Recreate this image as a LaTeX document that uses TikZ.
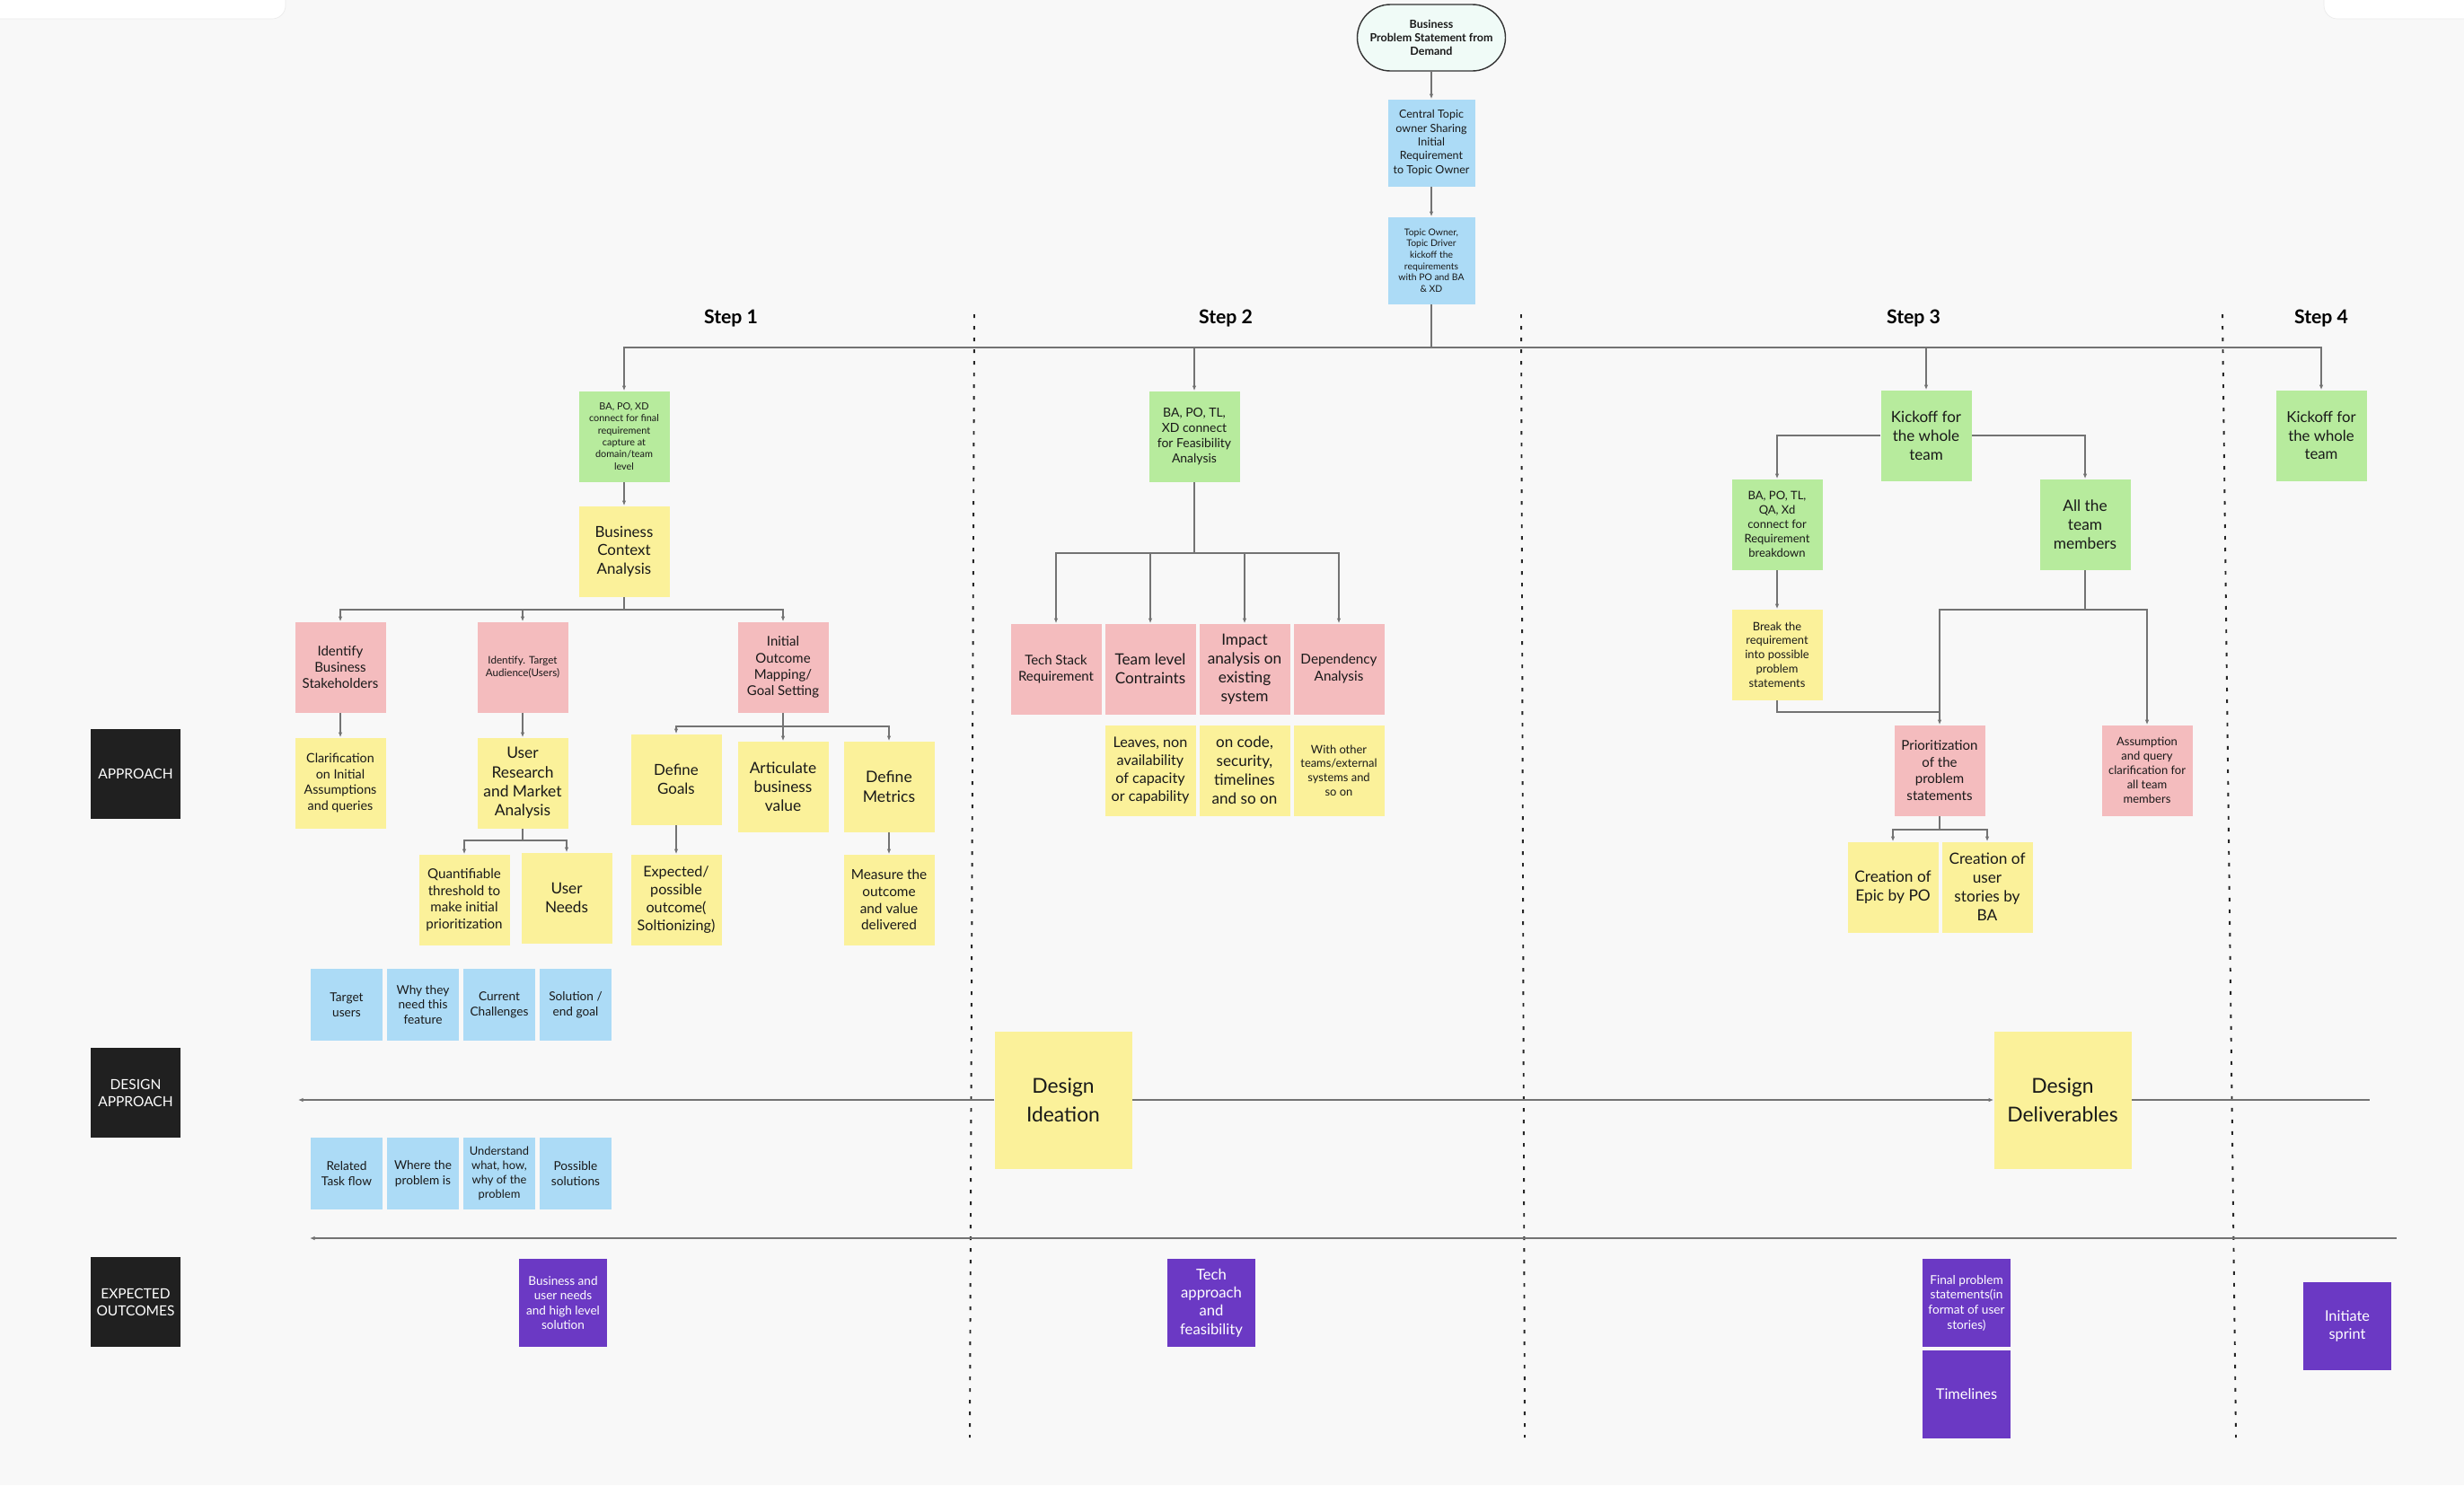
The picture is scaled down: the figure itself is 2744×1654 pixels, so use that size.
\documentclass[tikz,border=0pt]{standalone}
\usepackage{fontspec}
\setmainfont{Lato}
\usetikzlibrary{arrows.meta}

\definecolor{bgcol}{RGB}{248,248,248}
\definecolor{stickyyellow}{RGB}{251,241,154}
\definecolor{stickypink}{RGB}{244,188,190}
\definecolor{stickygreen}{RGB}{183,235,157}
\definecolor{stickyblue}{RGB}{172,219,246}
\definecolor{stickypurple}{RGB}{107,57,196}
\definecolor{stickyblack}{RGB}{32,32,32}
\definecolor{startfill}{RGB}{240,251,247}

% font size from the line spacing in px
\newcommand{\ls}[1]{\fontsize{\fpeval{0.465*#1}}{\fpeval{0.569*#1}}\selectfont}

\begin{document}
\begin{tikzpicture}[x=0.2mm, y=-0.2mm,
    note/.style={minimum width=20.2mm, minimum height=20.2mm, align=center, inner sep=0.5mm, text=black!90},
    yelnote/.style={note, fill=stickyyellow},
    pinknote/.style={note, fill=stickypink},
    greennote/.style={note, fill=stickygreen},
    bluenote/.style={note, fill=stickyblue, minimum width=19.4mm, minimum height=19.4mm},
    smallblue/.style={note, fill=stickyblue, minimum width=16mm, minimum height=16mm},
    purplenote/.style={note, fill=stickypurple, text=white, minimum width=19.6mm, minimum height=19.6mm},
    blacknote/.style={note, fill=stickyblack, text=white, minimum width=20mm, minimum height=20mm},
    bignote/.style={note, fill=stickyyellow, minimum width=30.6mm, minimum height=30.6mm, font=\fontsize{13}{18.4}\selectfont},
    fs/.style={font=\ls{#1}},
    steplabel/.style={font=\bfseries\ls{26}},
    conn/.style={draw=black!55, line width=0.7pt},
    arr/.style={conn, -{Latex[length=1.1mm,width=0.9mm]}},
    sep/.style={line width=1.1pt, dash pattern=on 0.8mm off 1.8mm, black!85}]

    \useasboundingbox (0,0) rectangle (2744,1654);
    \fill[bgcol] (0,0) rectangle (2744,1654);

    % board corners at the top
    \draw[black!8, fill=white, rounded corners=3mm] (-40,-40) rectangle (318,21);
    \draw[black!8, fill=white, rounded corners=3mm] (2588,-40) rectangle (2790,21);

    % step separators
    \draw[sep] (1085,350) -- (1080,1601);
    \draw[sep] (1694,350) -- (1698,1601);
    \draw[sep] (2475,350) -- (2490,1601);

    % row headings
    \node[blacknote, fs=19] (ap) at (151,862) {APPROACH};
    \node[blacknote, fs=19] (dap) at (151,1217) {DESIGN\\APPROACH};
    \node[blacknote, fs=19] (eo) at (151,1450) {EXPECTED\\OUTCOMES};

    % top of the flow
    \node[note, draw=black!80, line width=0.8pt, fill=startfill, rounded corners=7.4mm,
          minimum width=33mm, minimum height=14.8mm, font=\bfseries\ls{15.3}] (demand) at (1594,42)
          {Business\\Problem Statement from\\Demand};
    \node[bluenote, fs=15.3] (share) at (1594,159) {Central Topic\\owner Sharing\\Initial\\Requirement\\to Topic Owner};
    \node[bluenote, fs=12.7] (kick) at (1594,290) {Topic Owner,\\Topic Driver\\kickoff the\\requirements\\with PO and BA\\\& XD};

    \node[steplabel] (s1) at (814,355) {Step 1};
    \node[steplabel] (s2) at (1365,355) {Step 2};
    \node[steplabel] (s3) at (2131,355) {Step 3};
    \node[steplabel] (s4) at (2585,355) {Step 4};

    % Step 1
    \node[greennote, fs=13.3] (g1) at (695,486) {BA, PO, XD\\connect for final\\requirement\\capture at\\domain/team\\level};
    \node[yelnote, fs=20.7] (bca) at (695,614) {Business\\Context\\Analysis};
    \node[pinknote, fs=18.4] (ibs) at (379,743) {Identify\\Business\\Stakeholders};
    \node[pinknote, fs=14.2] (ita) at (582,743) {Identify. Target\\Audience(Users)};
    \node[pinknote, fs=18.3] (iom) at (872,743) {Initial\\Outcome\\Mapping/\\Goal Setting};
    \node[yelnote, fs=17.5] (cia) at (379,872) {Clarification\\on Initial\\Assumptions\\and queries};
    \node[yelnote, fs=21.3] (urm) at (582,872) {User\\Research\\and Market\\Analysis};
    \node[yelnote, fs=18.5] (qt) at (517,1002) {Quantifiable\\threshold to\\make initial\\prioritization};
    \node[yelnote, fs=21] (un) at (631,1000) {User\\Needs};
    \node[yelnote, fs=20.7] (dg) at (753,868) {Define\\Goals};
    \node[yelnote, fs=21.2] (abv) at (872,876) {Articulate\\business\\value};
    \node[yelnote, fs=21.5] (dm) at (990,876) {Define\\Metrics};
    \node[yelnote, fs=19.8] (epo) at (753,1002) {Expected/\\possible\\outcome(\\Soltionizing)};
    \node[yelnote, fs=18.8] (mov) at (990,1002) {Measure the\\outcome\\and value\\delivered};

    \node[smallblue, fs=16.7] (tu) at (386,1119) {Target\\users};
    \node[smallblue, fs=16.7] (wn) at (471,1119) {Why they\\need this\\feature};
    \node[smallblue, fs=16.7] (cc) at (556,1119) {Current\\Challenges};
    \node[smallblue, fs=16.7] (seg) at (641,1119) {Solution /\\end goal};
    \node[smallblue, fs=16.7] (rtf) at (386,1307) {Related\\Task flow};
    \node[smallblue, fs=16.7] (wp) at (471,1307) {Where the\\problem is};
    \node[smallblue, fs=15.8] (uw) at (556,1307) {Understand\\what, how,\\why of the\\problem};
    \node[smallblue, fs=16.7] (ps) at (641,1307) {Possible\\solutions};

    % Step 2
    \node[greennote, fs=17.1] (g2) at (1330,486) {BA, PO, TL,\\XD connect\\for Feasibility\\Analysis};
    \node[pinknote, fs=18.3] (tsr) at (1176,745) {Tech Stack\\Requirement};
    \node[pinknote, fs=21] (tlc) at (1281,745) {Team level\\Contraints};
    \node[pinknote, fs=21.1] (ia) at (1386,745) {Impact\\analysis on\\existing\\system};
    \node[pinknote, fs=18.7] (da) at (1491,745) {Dependency\\Analysis};
    \node[yelnote, fs=19.8] (lv) at (1281,858) {Leaves, non\\availability\\of capacity\\or capability};
    \node[yelnote, fs=20.9] (oc) at (1386,858) {on code,\\security,\\timelines\\and so on};
    \node[yelnote, fs=15.8] (wo) at (1491,858) {With other\\teams/external\\systems and\\so on};

    % Step 3
    \node[greennote, fs=20.8] (g3) at (2145,485) {Kickoff for\\the whole\\team};
    \node[greennote, fs=15.9] (ba3) at (1979,584) {BA, PO, TL,\\QA, Xd\\connect for\\Requirement\\breakdown};
    \node[greennote, fs=21.2] (all3) at (2322,584) {All the\\team\\members};
    \node[yelnote, fs=15.8] (br3) at (1979,729) {Break the\\requirement\\into possible\\problem\\statements};
    \node[pinknote, fs=18.4] (pr3) at (2160,858) {Prioritization\\of the\\problem\\statements};
    \node[pinknote, fs=15.9] (as3) at (2391,858) {Assumption\\and query\\clarification for\\all team\\members};
    \node[yelnote, fs=21.2] (ep3) at (2108,988) {Creation of\\Epic by PO};
    \node[yelnote, fs=21.1] (us3) at (2213,988) {Creation of\\user\\stories by\\BA};

    % Step 4
    \node[greennote, fs=20.5] (g4) at (2585,485) {Kickoff for\\the whole\\team};

    % design row
    \node[bignote] (di) at (1184,1225) {Design\\Ideation};
    \node[bignote] (dd) at (2297,1225) {Design\\Deliverables};

    % expected outcomes
    \node[purplenote, fs=16.6] (bun) at (627,1451) {Business and\\user needs\\and high level\\solution};
    \node[purplenote, fs=20.4] (ta) at (1349,1451) {Tech\\approach\\and\\feasibility};
    \node[purplenote, fs=16.7] (fps) at (2190,1451) {Final problem\\statements(in\\format of user\\stories)};
    \node[purplenote, fs=20] (tl) at (2190,1553) {Timelines};
    \node[purplenote, fs=20] (isp) at (2614,1477) {Initiate\\sprint};

    % connectors, top
    \draw[arr] (demand) -- (share);
    \draw[arr] (share) -- (kick);
    \coordinate (hub) at (1594,387);
    \draw[conn] (kick) -- (hub);
    \foreach \n in {g1,g2,g3,g4}
        \draw[arr] (hub) -| (\n);

    % connectors, step 1
    \draw[arr] (g1) -- (bca);
    \coordinate (j11) at (695,679);
    \draw[conn] (bca) -- (j11);
    \foreach \n in {ibs,ita,iom}
        \draw[arr] (j11) -| (\n);
    \draw[arr] (ibs) -- (cia);
    \draw[arr] (ita) -- (urm);
    \coordinate (j12) at (582,936);
    \draw[conn] (urm) -- (j12);
    \foreach \n in {qt,un}
        \draw[arr] (j12) -| (\n);
    \coordinate (j13) at (872,809);
    \draw[conn] (iom) -- (j13);
    \foreach \n in {dg,abv,dm}
        \draw[arr] (j13) -| (\n);
    \draw[arr] (dg) -- (epo);
    \draw[arr] (dm) -- (mov);

    % connectors, step 2
    \coordinate (j21) at (1330,616);
    \draw[conn] (g2) -- (j21);
    \foreach \n in {tsr,tlc,ia,da}
        \draw[arr] (j21) -| (\n);

    % connectors, step 3
    \draw[arr] (g3) -| (ba3);
    \draw[arr] (g3) -| (all3);
    \draw[arr] (ba3) -- (br3);
    \coordinate (j31) at (2322,679);
    \coordinate (j32) at (2160,793);
    \draw[conn] (all3) -- (j31);
    \draw[arr] (j31) -| (pr3);
    \draw[arr] (j31) -| (as3);
    \draw[conn] (br3) |- (j32);
    \coordinate (j33) at (2160,924);
    \draw[conn] (pr3) -- (j33);
    \foreach \n in {ep3,us3}
        \draw[arr] (j33) -| (\n);

    % design line and outcome line
    \coordinate (dl) at (332,1225);
    \coordinate (dr) at (2639,1225);
    \draw[arr] (di) -- (dl);
    \draw[arr] (di) -- (dd);
    \draw[conn] (dd) -- (dr);
    \coordinate (ol) at (345,1379);
    \coordinate (orr) at (2669,1379);
    \draw[arr] (orr) -- (ol);
\end{tikzpicture}
\end{document}
